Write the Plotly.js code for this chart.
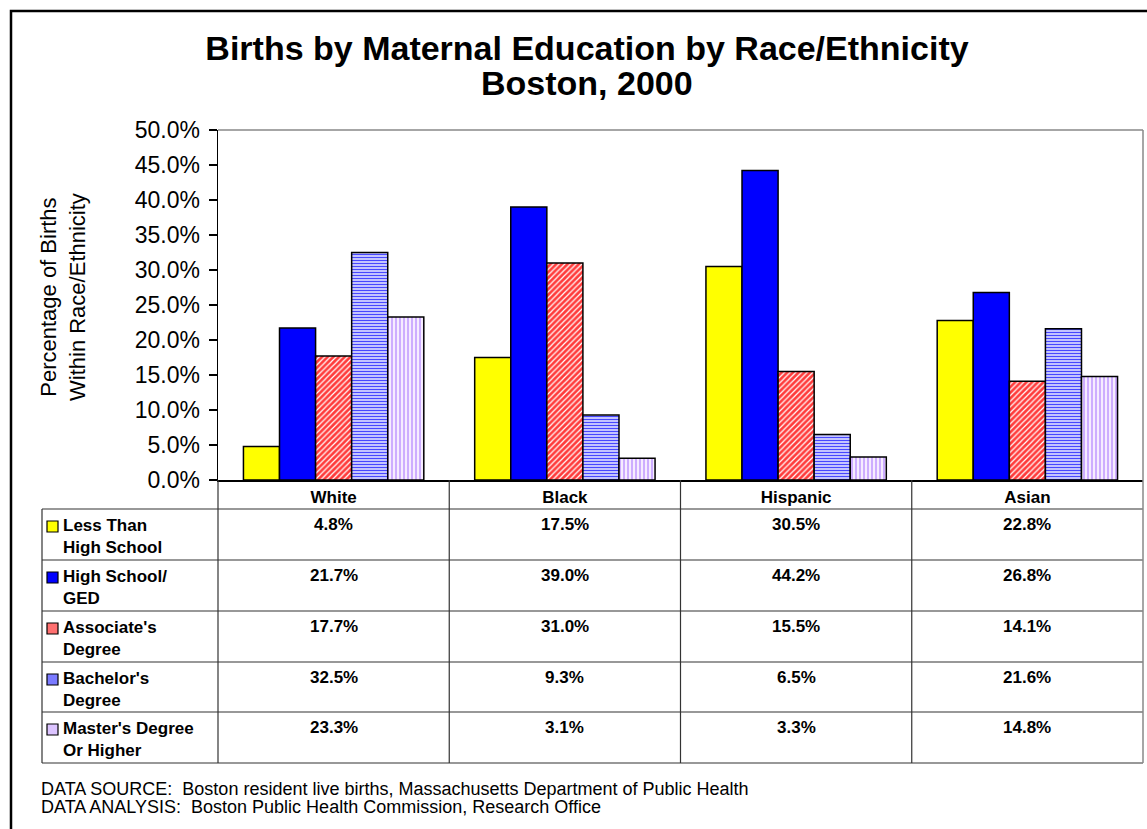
<!DOCTYPE html>
<html>
<head>
<meta charset="utf-8">
<script src="https://cdn.plot.ly/plotly-3.0.1.min.js"></script>
<style>html,body{margin:0;padding:0;background:#fff;}#chart{width:1147px;height:829px;}</style>
</head>
<body>
<div id="chart"></div>
<script>
// ---- data ----
const categories = ['White', 'Black', 'Hispanic', 'Asian'];
const seriesNames = ['Less Than High School', 'High School/ GED', "Associate's Degree", "Bachelor's Degree", "Master's Degree Or Higher"];
const seriesLabels = ['Less Than<br>High School', 'High School/<br>GED', "Associate's<br>Degree", "Bachelor's<br>Degree", "Master's Degree<br>Or Higher"];
const lessThanHS = [4.8, 17.5, 30.5, 22.8];
const highSchool = [21.7, 39.0, 44.2, 26.8];
const associates = [17.7, 31.0, 15.5, 14.1];
const bachelors = [32.5, 9.3, 6.5, 21.6];
const masters = [23.3, 3.1, 3.3, 14.8];
const yTickVals = [0, 5, 10, 15, 20, 25, 30, 35, 40, 45, 50];
const titleLines = ['Births by Maternal Education by Race/Ethnicity', 'Boston, 2000'];
const yTitle = 'Percentage of Births<br>Within Race/Ethnicity';
const footnotes = ['DATA SOURCE:  Boston resident live births, Massachusetts Department of Public Health',
                   'DATA ANALYSIS:  Boston Public Health Commission, Research Office'];

const seriesValues = [lessThanHS, highSchool, associates, bachelors, masters];

// ---- styles ----
const W = 1147, H = 829;
const M = {l: 218, r: 4, t: 130, b: 349};
const plotW = W - M.l - M.r, plotH = H - M.t - M.b;
const px2x = p => (p - M.l) / plotW;
const py2y = p => (H - M.b - p) / plotH;
const FAM = 'Arial, Liberation Sans, sans-serif';

const styles = [
  {color: '#ffff00'},
  {color: '#0000ff'},
  {color: '#ff3b3b', pattern: {shape: '/', bgcolor: '#ff3b3b', fgcolor: '#ffffff', size: 4, solidity: 0.3}},
  {color: '#5a5aff', pattern: {shape: '-', bgcolor: '#ffffff', fgcolor: '#4848ff', size: 3, solidity: 0.55}},
  {color: '#e8d4ff', pattern: {shape: '|', bgcolor: '#f6ecff', fgcolor: '#c9a6ff', size: 4, solidity: 0.45}}
];
const keyFill = ['#ffff00', '#0000ff', '#ff7070', '#7a7aff', '#dcc4ff'];

const traces = seriesValues.map((vals, i) => {
  const m = {color: styles[i].color, line: {color: '#000000', width: 1.5}};
  if (styles[i].pattern) m.pattern = styles[i].pattern;
  return {type: 'bar', name: seriesNames[i], x: categories, y: vals, marker: m, hoverinfo: 'x+y+name'};
});

// ---- table geometry ----
const rowTops = [509, 560, 611, 662, 712, 763];
const tableLeft = 42;
const shapes = [];
const lineStyle = {color: '#333333', width: 1.2};
rowTops.forEach(p => shapes.push({type: 'line', xref: 'paper', yref: 'paper',
  x0: px2x(tableLeft), x1: 1, y0: py2y(p), y1: py2y(p), line: lineStyle}));
for (let k = 0; k <= categories.length; k++) {
  shapes.push({type: 'line', xref: 'paper', yref: 'paper', x0: k / categories.length, x1: k / categories.length,
    y0: 0, y1: py2y(rowTops[rowTops.length - 1]), line: k === categories.length ? {color: '#888888', width: 1.5} : lineStyle});
}
shapes.push({type: 'line', xref: 'paper', yref: 'paper', x0: px2x(tableLeft), x1: px2x(tableLeft),
  y0: py2y(rowTops[0]), y1: py2y(rowTops[rowTops.length - 1]), line: lineStyle});
shapes.push({type: 'line', xref: 'paper', yref: 'paper', x0: 0, x1: 1, y0: 1, y1: 1, line: {color: '#888888', width: 1.5}});
shapes.push({type: 'line', xref: 'paper', yref: 'paper', x0: 1, x1: 1, y0: 0, y1: 1, line: {color: '#888888', width: 1.5}});
shapes.push({type: 'rect', xref: 'paper', yref: 'paper', x0: px2x(11), x1: px2x(1200), y0: py2y(11), y1: py2y(900),
  line: {color: '#000000', width: 2.5}, fillcolor: 'rgba(0,0,0,0)'});
seriesValues.forEach((v, i) => {
  const top = rowTops[i] + 12;
  shapes.push({type: 'rect', xref: 'paper', yref: 'paper', x0: px2x(47), x1: px2x(58), y0: py2y(top), y1: py2y(top + 11),
    fillcolor: keyFill[i], line: {color: '#000000', width: 1.2}});
});

const annotations = [];
const boldFont = {family: FAM, size: 17, color: '#000000', weight: 'bold'};
seriesValues.forEach((vals, i) => {
  annotations.push({xref: 'paper', yref: 'paper', x: px2x(61), y: py2y(rowTops[i] + 5), xanchor: 'left', yanchor: 'top',
    align: 'left', showarrow: false, text: seriesLabels[i], font: boldFont});
  vals.forEach((v, j) => {
    annotations.push({xref: 'x', yref: 'paper', x: categories[j], y: py2y(rowTops[i] + 4), xanchor: 'center', yanchor: 'top',
      showarrow: false, text: v.toFixed(1) + '%', font: boldFont});
  });
});
footnotes.forEach((t, i) => {
  annotations.push({xref: 'paper', yref: 'paper', x: px2x(39), y: py2y(789 + i * 18), xanchor: 'left', yanchor: 'middle',
    showarrow: false, text: t, font: {family: FAM, size: 18, color: '#000000'}});
});
// second title line
annotations.push({xref: 'paper', yref: 'paper', x: px2x(587), y: py2y(83), xanchor: 'center', yanchor: 'middle',
  showarrow: false, text: titleLines[1], font: {family: FAM, size: 34, weight: 'bold', color: '#000000'}});
// y-axis title
annotations.push({xref: 'paper', yref: 'paper', x: px2x(63), y: py2y(297), xanchor: 'center', yanchor: 'middle',
  textangle: -90, showarrow: false, text: yTitle, font: {family: FAM, size: 22, color: '#000000'}});

const layout = {
  width: W, height: H,
  margin: M,
  paper_bgcolor: '#ffffff', plot_bgcolor: '#ffffff',
  showlegend: false,
  barmode: 'group', bargap: 0.22, bargroupgap: 0,
  font: {family: FAM, color: '#000000'},
  title: {text: titleLines[0],
    font: {family: FAM, size: 34, weight: 'bold', color: '#000000'},
    x: 587 / W, xanchor: 'center', xref: 'container', y: 1 - 48 / H, yanchor: 'middle', yref: 'container'},
  xaxis: {type: 'category', showline: true, linecolor: '#000000', linewidth: 1.5, ticks: '', showgrid: false,
    tickfont: {family: FAM, size: 17, weight: 'bold', color: '#000000'},
    ticklabelstandoff: 1, fixedrange: true},
  yaxis: {range: [0, 50], tickvals: yTickVals, ticktext: yTickVals.map(v => v.toFixed(1) + '%'),
    showline: true, linecolor: '#000000', linewidth: 1.5, ticks: 'outside', ticklen: 8, tickwidth: 1.2, tickcolor: '#000000',
    showgrid: false, zeroline: false, ticklabelstandoff: 4,
    tickfont: {family: FAM, size: 23, color: '#000000'},
    automargin: false, fixedrange: true},
  shapes: shapes,
  annotations: annotations
};

Plotly.newPlot('chart', traces, layout, {displayModeBar: false, staticPlot: true});
</script>
</body>
</html>
